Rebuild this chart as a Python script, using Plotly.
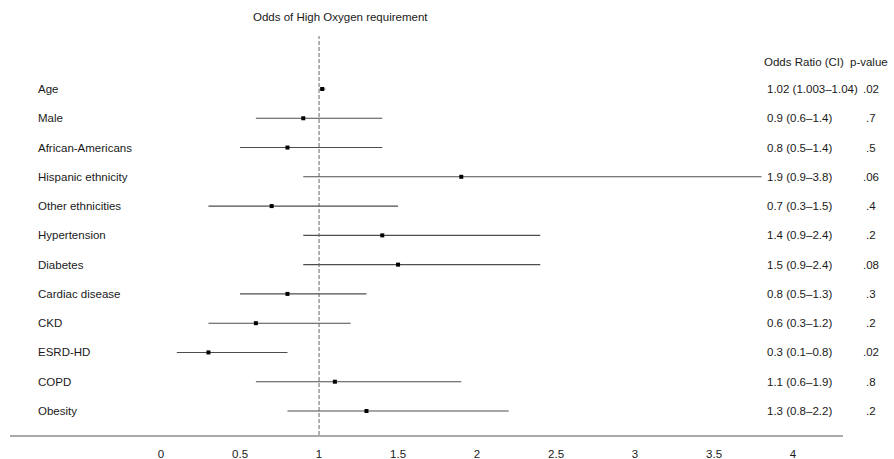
import plotly.graph_objects as go

labels = ["Age", "Male", "African-Americans", "Hispanic ethnicity", "Other ethnicities",
          "Hypertension", "Diabetes", "Cardiac disease", "CKD", "ESRD-HD", "COPD", "Obesity"]
odds = [1.02, 0.9, 0.8, 1.9, 0.7, 1.4, 1.5, 0.8, 0.6, 0.3, 1.1, 1.3]
lower = [1.003, 0.6, 0.5, 0.9, 0.3, 0.9, 0.9, 0.5, 0.3, 0.1, 0.6, 0.8]
upper = [1.04, 1.4, 1.4, 3.8, 1.5, 2.4, 2.4, 1.3, 1.2, 0.8, 1.9, 2.2]
pvalues = [".02", ".7", ".5", ".06", ".4", ".2", ".08", ".3", ".2", ".02", ".8", ".2"]
tick_vals = [0, 0.5, 1, 1.5, 2, 2.5, 3, 3.5, 4]
tick_text = ["0", "0.5", "1", "1.5", "2", "2.5", "3", "3.5", "4"]
null_value = 1
title = "Odds of High Oxygen requirement"

rows = list(range(len(labels)))
FONT = "Liberation Sans, Arial, sans-serif"
TXT = "#1a1a1a"
FS = 11.5

fig = go.Figure()
fig.add_trace(go.Scatter(
    x=odds, y=rows, mode="markers",
    marker=dict(symbol="square", size=4, color="black"),
    error_x=dict(type="data", symmetric=False,
                 array=[u - o for u, o in zip(upper, odds)],
                 arrayminus=[o - l for o, l in zip(odds, lower)],
                 color="#4d4d4d", thickness=1.1, width=0),
    hoverinfo="skip", showlegend=False,
))

fig.add_shape(type="line", xref="x", yref="paper", x0=null_value, x1=null_value,
              y0=0, y1=0.917, line=dict(color="#666666", width=1, dash="4px,2px"))

ann = []
for i, lab in enumerate(labels):
    ann.append(dict(text=lab, xref="paper", yref="y", x=0.0318, y=i,
                    xanchor="left", yanchor="middle", showarrow=False,
                    font=dict(size=FS, color=TXT, family=FONT)))
    ann.append(dict(text=f"{odds[i]} ({lower[i]}\u2013{upper[i]})", xref="paper", yref="y",
                    x=0.9064, y=i, xanchor="left", yanchor="middle", showarrow=False,
                    font=dict(size=FS, color=TXT, family=FONT)))
    ann.append(dict(text=pvalues[i], xref="paper", yref="y", x=1.0336, y=i,
                    xanchor="center", yanchor="middle", showarrow=False,
                    font=dict(size=FS, color=TXT, family=FONT)))
ann.append(dict(text="Odds Ratio (CI)", xref="paper", yref="y", x=0.9028, y=-0.92,
                xanchor="left", yanchor="middle", showarrow=False,
                font=dict(size=FS, color=TXT, family=FONT)))
ann.append(dict(text="p-value", xref="paper", yref="y", x=1.0312, y=-0.92,
                xanchor="center", yanchor="middle", showarrow=False,
                font=dict(size=FS, color=TXT, family=FONT)))
ann.append(dict(text=title, xref="paper", yref="paper", x=0.397, y=0.961,
                xanchor="center", yanchor="middle", showarrow=False,
                font=dict(size=FS, color=TXT, family=FONT)))

fig.update_layout(
    width=894, height=459,
    margin=dict(l=10, r=51, t=0, b=24),
    paper_bgcolor="white", plot_bgcolor="white",
    annotations=ann,
    xaxis=dict(range=[-0.956, 4.316], tickvals=tick_vals, ticktext=tick_text,
               showgrid=False, zeroline=False, showline=True, linecolor="#aaaaaa",
               linewidth=1.5, ticks="", ticklabelstandoff=7, automargin=False,
               tickfont=dict(size=FS, color=TXT, family=FONT)),
    yaxis=dict(range=[11.82, -3.04], visible=False, showgrid=False, zeroline=False,
               automargin=False),
)

fig.write_html("out.html", config={"displayModeBar": False},
               post_script="document.body.style.margin='0';document.body.style.overflow='hidden';")
